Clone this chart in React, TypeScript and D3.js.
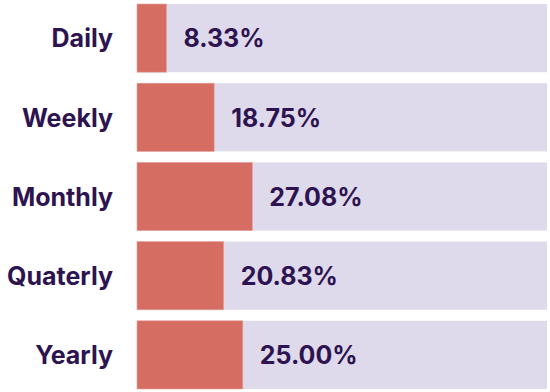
import React from "react";
import * as d3 from "d3";

const categories = ["Daily", "Weekly", "Monthly", "Quaterly", "Yearly"];
const values = [8.33, 18.75, 27.08, 20.83, 25.0];
const valueLabels = ["8.33%", "18.75%", "27.08%", "20.83%", "25.00%"];

const W = 550;
const H = 392;
const trackLeft = 137;
const trackRight = 547;

export default function App() {
  const y = d3
    .scaleBand<string>()
    .domain(categories)
    .range([4, 389])
    .paddingInner(0.139)
    .paddingOuter(0);
  const x = d3.scaleLinear().domain([0, 100]).range([128.3, 586.3]);
  const font = "Inter, 'DejaVu Sans', sans-serif";
  return (
    <svg
      width={W}
      height={H}
      style={{ position: "absolute", left: 0, top: 0 }}
      viewBox={`0 0 ${W} ${H}`}
    >
      {categories.map((c, i) => {
        const y0 = y(c)!;
        const bw = y.bandwidth();
        const xe = x(values[i]);
        return (
          <g key={c}>
            <rect x={trackLeft} y={y0} width={trackRight - trackLeft} height={bw} fill="#dfdaeb" />
            <rect
              x={trackLeft}
              y={y0}
              width={xe - trackLeft}
              height={bw}
              fill="#d66d63"
              stroke="#e7a39c"
              strokeWidth={0.6}
            />
            <text
              x={113}
              y={y0 + bw / 2}
              dy="0.37em"
              textAnchor="end"
              fontFamily={font}
              fontWeight={700}
              fontSize={25}
              fill="#2d1450"
            >
              {c}
            </text>
            <text
              x={xe + 17}
              y={y0 + bw / 2}
              dy="0.37em"
              textAnchor="start"
              fontFamily={font}
              fontWeight={700}
              fontSize={25}
              fill="#2d1450"
            >
              {valueLabels[i]}
            </text>
          </g>
        );
      })}
    </svg>
  );
}
